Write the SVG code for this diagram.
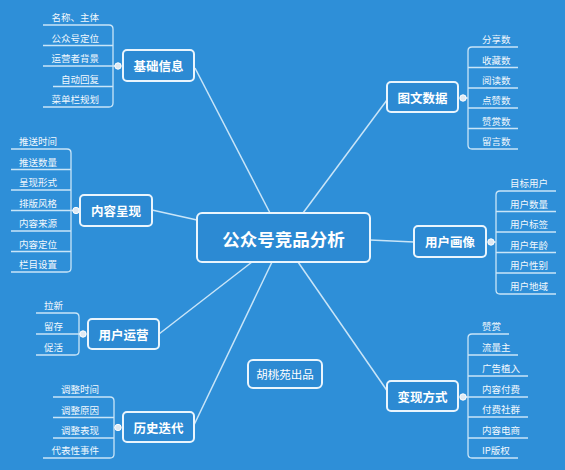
<svg xmlns="http://www.w3.org/2000/svg" width="565" height="470" viewBox="0 0 565 470">
<style>
.bg{fill:#2e8fd8}
.box{fill:#2c8ad3;stroke:#eaf5fd;stroke-width:2}
.main{font-family:"Noto Sans CJK SC","Noto Sans",sans-serif;font-weight:bold;fill:#fff;text-anchor:middle;dominant-baseline:central}
.leaf{font-family:"Noto Sans CJK SC","Noto Sans",sans-serif;font-size:9.5px;fill:#f2f8fd}
.l{fill:none;stroke:#c9e5f8;stroke-width:1.3}
.c{fill:none;stroke:#c9e5f8;stroke-width:1.5}
.dot{fill:#dfe9f2;stroke:#ffffff;stroke-width:1}
.e{text-anchor:end}
</style>
<rect class="bg" x="0" y="0" width="565" height="470"/>
<g id="connectors">
<path class="c" d="M195 68 L270 213"/>
<path class="c" d="M387 100 L303 213"/>
<path class="c" d="M152 210 L197 220"/>
<path class="c" d="M370 240 L414 242"/>
<path class="c" d="M159 334 L252 262"/>
<path class="c" d="M194 425 L272 262"/>
<path class="c" d="M298 262 L388 392"/>
</g>
<g id="center">
<rect class="box" x="197" y="213" width="173" height="49" rx="5"/>
<text class="main" x="283.5" y="238" font-size="17.5">公众号竞品分析</text>
</g>
<g id="n-jichu">
<path class="l" d="M43 25 H109 Q113 25 113 29 V103 Q113 107 109 107 H43 M43 45.5 H113 M43 66 H118 M53 86.5 H113"/>
<circle class="dot" cx="118" cy="66" r="3.2"/>
<rect class="box" x="123" y="50" width="71" height="31" rx="4"/>
<text class="main" x="158.5" y="65.5" font-size="12.5">基础信息</text>
<text class="leaf e" x="99" y="21">名称、主体</text>
<text class="leaf e" x="99" y="41.5">公众号定位</text>
<text class="leaf e" x="99" y="62">运营者背景</text>
<text class="leaf e" x="99" y="82.5">自动回复</text>
<text class="leaf e" x="99" y="103">菜单栏规划</text>
</g>
<g id="n-neirong">
<path class="l" d="M11 149 H67 Q71 149 71 153 V268 Q71 272 67 272 H11 M11 169.5 H71 M11 190 H71 M11 210.5 H76 M11 231 H71 M11 251.5 H71"/>
<circle class="dot" cx="76" cy="210.5" r="3.2"/>
<rect class="box" x="80" y="195" width="72" height="31" rx="4"/>
<text class="main" x="116" y="210.5" font-size="12.5">内容呈现</text>
<text class="leaf e" x="57" y="145">推送时间</text>
<text class="leaf e" x="57" y="165.5">推送数量</text>
<text class="leaf e" x="57" y="186">呈现形式</text>
<text class="leaf e" x="57" y="206.5">排版风格</text>
<text class="leaf e" x="57" y="227">内容来源</text>
<text class="leaf e" x="57" y="247.5">内容定位</text>
<text class="leaf e" x="57" y="268">栏目设置</text>
</g>
<g id="n-yunying">
<path class="l" d="M36 313 H75 Q79 313 79 317 V351 Q79 355 75 355 H36 M36 334 H83"/>
<circle class="dot" cx="83" cy="334" r="3.2"/>
<rect class="box" x="88" y="319" width="71" height="30" rx="4"/>
<text class="main" x="123.5" y="334" font-size="12.5">用户运营</text>
<text class="leaf e" x="63" y="309">拉新</text>
<text class="leaf e" x="63" y="330">留存</text>
<text class="leaf e" x="63" y="351">促活</text>
</g>
<g id="n-lishi">
<path class="l" d="M53 397 H110 Q114 397 114 401 V454 Q114 458 110 458 H43 M53 417.5 H114 M53 438 H114 M114 427.5 H118"/>
<circle class="dot" cx="118" cy="427.5" r="3.2"/>
<rect class="box" x="123" y="412" width="71" height="30" rx="4"/>
<text class="main" x="158.5" y="427" font-size="12.5">历史迭代</text>
<text class="leaf e" x="99" y="393">调整时间</text>
<text class="leaf e" x="99" y="413.5">调整原因</text>
<text class="leaf e" x="99" y="434">调整表现</text>
<text class="leaf e" x="99" y="454">代表性事件</text>
</g>
<g id="n-tuwen">
<path class="l" d="M518 47 H472 Q468 47 468 51 V145 Q468 149 472 149 H518 M518 67.5 H468 M518 88 H468 M518 108 H468 M518 128.5 H468 M468 98 H463"/>
<circle class="dot" cx="463" cy="98" r="3.2"/>
<rect class="box" x="387" y="82" width="71" height="30" rx="4"/>
<text class="main" x="422.5" y="97" font-size="12.5">图文数据</text>
<text class="leaf" x="482" y="43">分享数</text>
<text class="leaf" x="482" y="63.5">收藏数</text>
<text class="leaf" x="482" y="84">阅读数</text>
<text class="leaf" x="482" y="104">点赞数</text>
<text class="leaf" x="482" y="124.5">赞赏数</text>
<text class="leaf" x="482" y="145">留言数</text>
</g>
<g id="n-huaxiang">
<path class="l" d="M556 191 H500 Q496 191 496 195 V290 Q496 294 500 294 H556 M556 211.5 H496 M556 232 H496 M556 252.5 H496 M556 273 H496 M496 242 H491"/>
<circle class="dot" cx="491" cy="242" r="3.2"/>
<rect class="box" x="414" y="226" width="72" height="31" rx="4"/>
<text class="main" x="450" y="241.5" font-size="12.5">用户画像</text>
<text class="leaf" x="510" y="187">目标用户</text>
<text class="leaf" x="510" y="207.5">用户数量</text>
<text class="leaf" x="510" y="228">用户标签</text>
<text class="leaf" x="510" y="248.5">用户年龄</text>
<text class="leaf" x="510" y="269">用户性别</text>
<text class="leaf" x="510" y="290">用户地域</text>
</g>
<g id="n-bianxian">
<path class="l" d="M509 334 H472 Q468 334 468 338 V454 Q468 458 472 458 H518 M518 355 H468 M528 376 H468 M528 397 H463 M528 417 H468 M528 438 H468"/>
<circle class="dot" cx="463" cy="397" r="3.2"/>
<rect class="box" x="387" y="381" width="71" height="30" rx="4"/>
<text class="main" x="422.5" y="396" font-size="12.5">变现方式</text>
<text class="leaf" x="482" y="330">赞赏</text>
<text class="leaf" x="482" y="351">流量主</text>
<text class="leaf" x="482" y="372">广告植入</text>
<text class="leaf" x="482" y="393">内容付费</text>
<text class="leaf" x="482" y="413">付费社群</text>
<text class="leaf" x="482" y="434">内容电商</text>
<text class="leaf" x="482" y="454">IP版权</text>
</g>
<g id="credit">
<rect class="box" x="248" y="360" width="74" height="28" rx="5" stroke-width="1.8"/>
<text x="285" y="374" font-family="Noto Sans CJK SC, Noto Sans, sans-serif" font-size="11.5" fill="#fff" text-anchor="middle" dominant-baseline="central">胡桃苑出品</text>
</g>
</svg>
